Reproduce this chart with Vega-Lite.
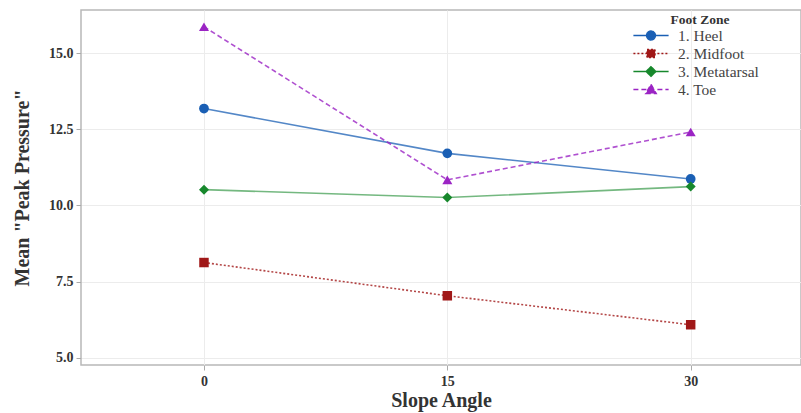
{
  "$schema": "https://vega.github.io/schema/vega-lite/v6.json",
  "width": 720,
  "height": 355,
  "autosize": {"type": "none"},
  "padding": {"left": 81, "top": 10, "right": 0, "bottom": 48},
  "background": "white",
  "config": {
    "font": "Liberation Serif",
    "view": {"stroke": "#b8b8b8", "strokeWidth": 1.5},
    "axis": {
      "labelFont": "Liberation Serif",
      "labelFontWeight": "bold",
      "labelFontSize": 14,
      "labelColor": "#333333",
      "titleFont": "Liberation Serif",
      "titleFontWeight": "bold",
      "titleFontSize": 20,
      "titleColor": "#333333",
      "gridColor": "#ececec",
      "gridWidth": 1,
      "tickColor": "#aaaaaa",
      "tickSize": 5,
      "domain": false
    }
  },
  "data": {
    "values": [
      {"zone": "1. Heel", "angle": 0, "pressure": 13.18},
      {"zone": "1. Heel", "angle": 15, "pressure": 11.71},
      {"zone": "1. Heel", "angle": 30, "pressure": 10.87},
      {"zone": "2. Midfoot", "angle": 0, "pressure": 8.13},
      {"zone": "2. Midfoot", "angle": 15, "pressure": 7.04},
      {"zone": "2. Midfoot", "angle": 30, "pressure": 6.09},
      {"zone": "3. Metatarsal", "angle": 0, "pressure": 10.52},
      {"zone": "3. Metatarsal", "angle": 15, "pressure": 10.26},
      {"zone": "3. Metatarsal", "angle": 30, "pressure": 10.62},
      {"zone": "4. Toe", "angle": 0, "pressure": 15.86},
      {"zone": "4. Toe", "angle": 15, "pressure": 10.84},
      {"zone": "4. Toe", "angle": 30, "pressure": 12.41}
    ]
  },
  "encoding": {
    "x": {
      "field": "angle",
      "type": "quantitative",
      "title": "Slope Angle",
      "scale": {"domain": [-7.58, 36.8], "nice": false, "zero": false},
      "axis": {"values": [0, 15, 30], "labelPadding": 4, "titlePadding": 2}
    },
    "y": {
      "field": "pressure",
      "type": "quantitative",
      "title": "Mean \"Peak Pressure\"",
      "scale": {"domain": [4.77, 16.41], "nice": false, "zero": false},
      "axis": {"values": [5, 7.5, 10, 12.5, 15], "format": ".1f", "labelPadding": 3, "titlePadding": 16}
    },
    "color": {
      "field": "zone",
      "type": "nominal",
      "scale": {
        "domain": ["1. Heel", "2. Midfoot", "3. Metatarsal", "4. Toe"],
        "range": ["#1a5fb4", "#a01818", "#17882c", "#9b24c4"]
      },
      "legend": {
        "title": "Foot Zone",
        "orient": "none",
        "legendX": 561,
        "legendY": 3,
        "titleFont": "Liberation Serif",
        "titleFontWeight": "bold",
        "titleFontSize": 13.5,
        "titleColor": "#333333",
        "titlePadding": 0,
        "titleAnchor": "middle",
        "labelFont": "Liberation Serif",
        "labelFontSize": 15.5,
        "labelColor": "#444444",
        "labelOffset": 18,
        "rowPadding": -1,
        "symbolOpacity": 1,
        "symbolSize": 256,
        "symbolStrokeWidth": 1.5,
        "encode": {
          "symbols": {
            "update": {
              "shape": {"signal": "datum.value == '1. Heel' ? 'M-2.2,0L2.2,0M0.55,0A0.55,0.55 0 1,1 -0.55,0A0.55,0.55 0 1,1 0.55,0Z' : datum.value == '2. Midfoot' ? 'M-2.2,0L2.2,0M-0.5,-0.5L0.5,-0.5L0.5,0.5L-0.5,0.5Z' : datum.value == '3. Metatarsal' ? 'M-2.2,0L2.2,0M0,-0.6L0.6,0L0,0.6L-0.6,0Z' : 'M-2.2,0L2.2,0M0,-0.65L0.65,0.5L-0.65,0.5Z'"},
              "strokeDash": {"signal": "datum.value == '2. Midfoot' ? [2,2] : datum.value == '4. Toe' ? [5,3] : [1,0]"},
              "fill": {"scale": "color", "field": "value"},
              "stroke": {"scale": "color", "field": "value"},
              "opacity": {"value": 1}
            }
          }
        }
      }
    }
  },
  "layer": [
    {
      "transform": [{"filter": "datum.zone === '1. Heel'"}],
      "mark": {"type": "line", "strokeWidth": 1.6, "opacity": 0.75,
               "point": {"shape": "circle", "filled": true, "size": 95, "opacity": 1}}
    },
    {
      "transform": [{"filter": "datum.zone === '2. Midfoot'"}],
      "mark": {"type": "line", "strokeWidth": 1.6, "opacity": 0.8, "strokeDash": [2, 2],
               "point": {"shape": "square", "filled": true, "size": 90, "opacity": 1}}
    },
    {
      "transform": [{"filter": "datum.zone === '3. Metatarsal'"}],
      "mark": {"type": "line", "strokeWidth": 1.6, "opacity": 0.6,
               "point": {"shape": "diamond", "filled": true, "size": 100, "opacity": 1}}
    },
    {
      "transform": [{"filter": "datum.zone === '4. Toe'"}],
      "mark": {"type": "line", "strokeWidth": 1.6, "opacity": 0.8, "strokeDash": [5, 3],
               "point": {"shape": "triangle-up", "filled": true, "size": 100, "opacity": 1}}
    }
  ]
}
